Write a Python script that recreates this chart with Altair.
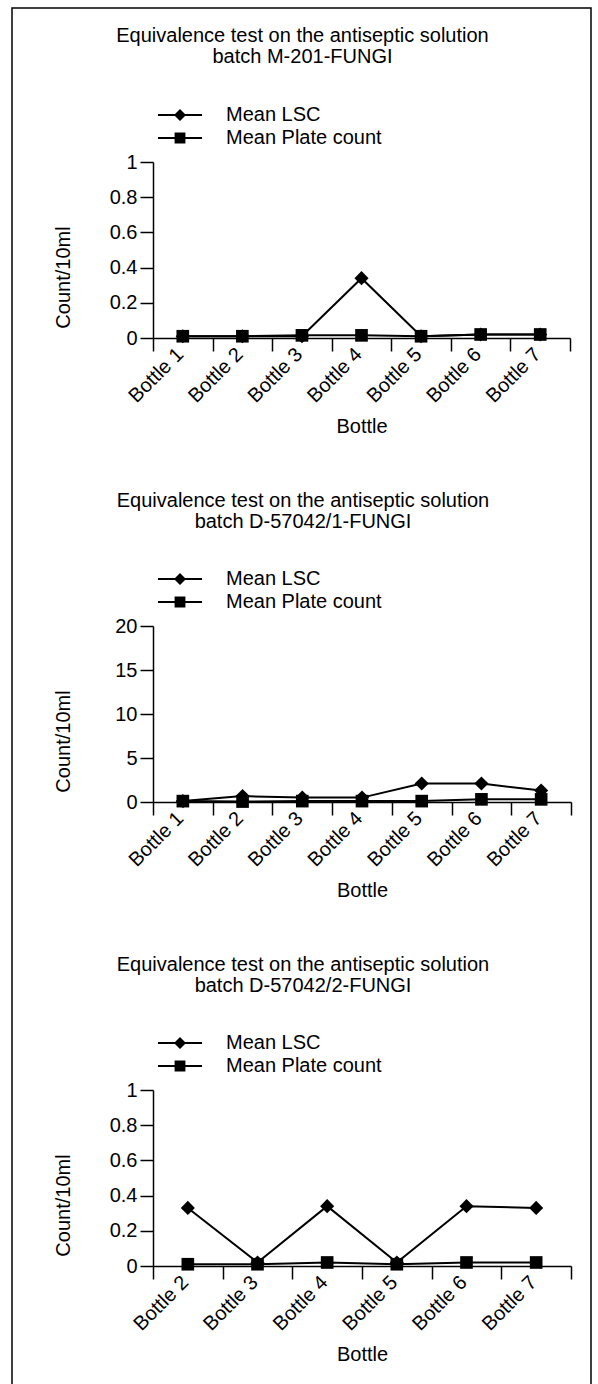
import altair as alt
import pandas as pd

FONT = "Liberation Sans"

series_names = ["Mean LSC", "Mean Plate count"]

title_line1 = "Equivalence test on the antiseptic solution"
batch_1 = "batch M-201-FUNGI"
batch_2 = "batch D-57042/1-FUNGI"
batch_3 = "batch D-57042/2-FUNGI"

bottles_1 = ["Bottle 1", "Bottle 2", "Bottle 3", "Bottle 4", "Bottle 5", "Bottle 6", "Bottle 7"]
lsc_1 = [0.01, 0.01, 0.01, 0.34, 0.01, 0.02, 0.02]
plate_1 = [0.01, 0.01, 0.015, 0.015, 0.01, 0.02, 0.02]

bottles_2 = ["Bottle 1", "Bottle 2", "Bottle 3", "Bottle 4", "Bottle 5", "Bottle 6", "Bottle 7"]
lsc_2 = [0.1, 0.67, 0.5, 0.5, 2.1, 2.1, 1.3]
plate_2 = [0.1, 0.05, 0.1, 0.1, 0.1, 0.3, 0.3]

bottles_3 = ["Bottle 2", "Bottle 3", "Bottle 4", "Bottle 5", "Bottle 6", "Bottle 7"]
lsc_3 = [0.33, 0.02, 0.34, 0.02, 0.34, 0.33]
plate_3 = [0.01, 0.01, 0.02, 0.01, 0.02, 0.02]

ymax_1, ymax_2, ymax_3 = 1, 20, 1
yticks_1 = [0, 0.2, 0.4, 0.6, 0.8, 1]
yticks_2 = [0, 5, 10, 15, 20]
yticks_3 = [0, 0.2, 0.4, 0.6, 0.8, 1]

# legend glyphs: line segment with marker (custom symbol paths)
LSC_PATH = "M-3.67,-0.17H3.67V0.17H-3.67ZM0,-1L1,0L0,1L-1,0Z"
PLATE_PATH = "M-3.67,-0.17H3.67V0.17H-3.67ZM-0.9,-0.9H0.9V0.9H-0.9Z"


def panel(bottles, lsc, plate, batch, ymax, yticks, width, frame=False):
    n = len(bottles)
    df = pd.DataFrame({
        "Bottle": bottles * 2,
        "value": lsc + plate,
        "series": [series_names[0]] * n + [series_names[1]] * n,
    })
    x = alt.X("Bottle:N", sort=bottles,
              scale=alt.Scale(type="band", paddingInner=0, paddingOuter=0),
              axis=alt.Axis(title="Bottle", labelAngle=-45, tickBand="extent",
                            labelBaseline="middle", labelAlign="right",
                            labelPadding=0, labelOffset=-3,
                            titleY=88, titleBaseline="middle"))
    y = alt.Y("value:Q", scale=alt.Scale(domain=[0, ymax], nice=False),
              axis=alt.Axis(title="Count/10ml", values=yticks, format="~g",
                            titleX=-90, titleY=115, titleBaseline="middle"))
    base = alt.Chart(df)
    lines = base.mark_line(color="black", strokeWidth=2).encode(x=x, y=y, detail="series:N")
    diamonds = base.transform_filter(alt.datum.series == series_names[0]).mark_point(
        shape="diamond", size=200, filled=True, color="black", opacity=1).encode(x=x, y=y)
    squares = base.transform_filter(alt.datum.series == series_names[1]).mark_point(
        shape="square", size=160, filled=True, color="black", opacity=1).encode(x=x, y=y)
    leg = base.transform_filter("false").mark_point(filled=True, color="black", opacity=1).encode(
        x=x, y=y,
        shape=alt.Shape("series:N",
                        scale=alt.Scale(domain=series_names, range=[LSC_PATH, PLATE_PATH]),
                        legend=alt.Legend(title=None, orient="none", legendX=17, legendY=-57,
                                          labelFont=FONT, labelFontSize=20, labelColor="black",
                                          symbolSize=144, symbolFillColor="black",
                                          symbolOpacity=1, labelOffset=36, rowPadding=3,
                                          padding=0)))
    layers = [lines, diamonds, squares, leg]
    if frame:
        fr = alt.Chart(pd.DataFrame({"f": [0]})).mark_rect(
            filled=False, stroke="black", strokeWidth=1.5).encode(
            x=alt.value(-141), x2=alt.value(438), y=alt.value(-154), y2=alt.value(1228))
        layers.append(fr)
        tparams = dict(offset=38, dy=98)
    else:
        tparams = dict(offset=37)
    return alt.layer(*layers).properties(
        width=width, height=176,
        title=alt.TitleParams(text=[title_line1, batch], font=FONT, fontSize=20,
                              fontWeight="normal", color="black", anchor="middle",
                              dx=-59, lineHeight=21, **tparams),
    )


c1 = panel(bottles_1, lsc_1, plate_1, batch_1, ymax_1, yticks_1, 417, frame=True)
c2 = panel(bottles_2, lsc_2, plate_2, batch_2, ymax_2, yticks_2, 418)
c3 = panel(bottles_3, lsc_3, plate_3, batch_3, ymax_3, yticks_3, 418)

chart = alt.vconcat(c1, c2, c3, spacing=288, bounds="flush").resolve_scale(
    shape="independent", x="independent", y="independent"
).resolve_legend(shape="independent").properties(
    padding={"left": 11, "top": 7, "right": 0, "bottom": 0},
    background="white",
).configure_view(stroke=None).configure_axis(
    grid=False, domainColor="black", tickColor="black", labelColor="black",
    titleColor="black", labelFont=FONT, titleFont=FONT, labelFontSize=20,
    titleFontSize=20, titleFontWeight="normal", domainWidth=1.5, tickWidth=1.5,
    tickSize=13, labelPadding=3,
)

chart.save("out.html", embed_options={"renderer": "svg", "actions": False})
